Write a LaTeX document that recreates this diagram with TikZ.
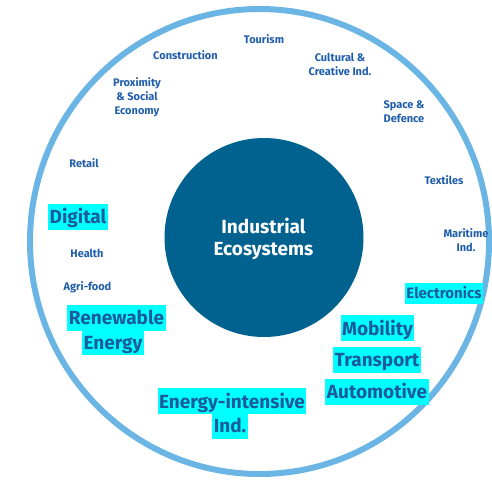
\documentclass[tikz,border=0pt]{standalone}
\usepackage{fontspec}
\setmainfont{Fira Sans}
\definecolor{ring}{HTML}{6BB5E5}
\definecolor{core}{HTML}{01628F}
\definecolor{txt}{HTML}{1F5DAA}
\definecolor{hl}{HTML}{00FFFF}
\definecolor{hltxt}{HTML}{1A5A9E}
\begin{document}
\begin{tikzpicture}[x=1pt,y=-1pt,
  small/.style={text=txt,font=\fontsize{11}{14}\selectfont\bfseries,align=center,inner sep=0pt},
  big/.style={fill=hl,text=hltxt,font=\fontsize{19}{23}\selectfont\bfseries,inner xsep=1.5pt,inner ysep=2.5pt,text height=17.5pt,text depth=3.5pt},
  mid/.style={fill=hl,text=hltxt,font=\fontsize{15}{18}\selectfont\bfseries,inner xsep=1.5pt,inner ysep=2.5pt,text height=13pt,text depth=3pt},
  corelabel/.style={text=white,font=\fontsize{19}{22}\selectfont\bfseries,align=center,inner sep=0pt}]
\useasboundingbox (0,0) rectangle (492,479);
\fill[core] (264,237.5) circle [radius=99.5pt];
\draw[ring,line width=6pt] (259.5,241.5) ellipse [x radius=229.5pt, y radius=232.5pt];
\node[corelabel] (core) at (263.5,239) {Industrial\\Ecosystems};
\node[small] (tourism) at (264,39) {Tourism};
\node[small] (construction) at (185.5,55) {Construction};
\node[small] (cultural) at (340,64.5) {Cultural \&\\Creative Ind.};
\node[small] (proximity) at (137,97) {Proximity\\\& Social\\Economy};
\node[small] (space) at (404,111.5) {Space \&\\Defence};
\node[small] (retail) at (84,163) {Retail};
\node[small] (textiles) at (444,180) {Textiles};
\node[small] (maritime) at (466,240.5) {Maritime\\Ind.};
\node[small] (health) at (87,253) {Health};
\node[small] (agri) at (87.5,287) {Agri-food};
\node[big] (digital) at (78,216.5) {Digital};
\node[mid] (electronics) at (444,293.5) {Electronics};
\node[big] (renewable) at (116.5,317.5) {Renewable};
\node[big] (energy) at (113,342) {Energy};
\node[big] (mobility) at (377.5,328) {Mobility};
\node[big] (transport) at (377,359.5) {Transport};
\node[big] (automotive) at (377,391.5) {Automotive};
\node[big] (energyint) at (232,401) {Energy-intensive};
\node[big] (ind) at (230,425.5) {Ind.};
\end{tikzpicture}
\end{document}
